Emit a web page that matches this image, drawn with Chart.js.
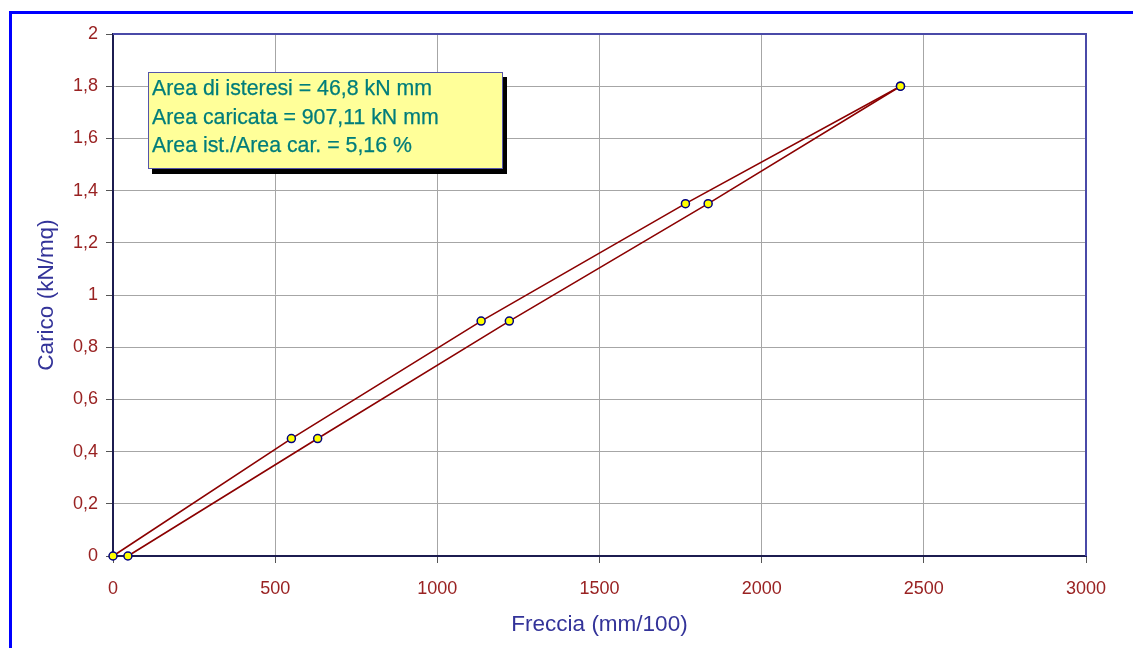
<!DOCTYPE html>
<html lang="it">
<head>
    <meta charset="UTF-8">
    <title>Carico - Freccia</title>
    <script src="https://cdn.jsdelivr.net/npm/chart.js"></script>
    <style>
        body { margin: 0; background: #ffffff; }
        #wrap { position: relative; width: 1133px; height: 648px; overflow: hidden; }
        /* blue outer frame, only left and top are visible */
        #frame { position: absolute; left: 9px; top: 11px; width: 1200px; height: 700px;
                 border-left: 3px solid #0000ff; border-top: 3px solid #0000ff; }
        #note { position: absolute; left: 148px; top: 72px; width: 350px; height: 94px;
                background: #ffff99; border: 1px solid #5555aa; box-shadow: 4px 5px 0 #000;
                font-family: "Liberation Sans", Arial, sans-serif; font-size: 21.3px;
                line-height: 28.5px; color: #007d7b; padding: 1px 0 0 3px; box-sizing: content-box;
                -webkit-text-stroke: 0.25px #007d7b; }
    </style>
</head>
<body>
<div id="wrap">
    <div id="frame"></div>
    <canvas id="chart" width="1133" height="648"></canvas>
    <div id="note">
        Area di isteresi = 46,8 kN mm<br>
        Area caricata = 907,11 kN mm<br>
        Area ist./Area car. = 5,16 %
    </div>
</div>

<script>
    // loading branch (carico) and unloading branch (scarico)
    const caricoX = [0, 550, 1135, 1765, 2428];
    const caricoY = [0, 0.45, 0.9, 1.35, 1.8];
    const scaricoX = [2428, 1835, 1222, 631, 46];
    const scaricoY = [1.8, 1.35, 0.9, 0.45, 0];

    const xTitle = 'Freccia (mm/100)';
    const yTitle = 'Carico (kN/mq)';

    function toPoints(xs, ys) {
        return xs.map((x, i) => ({ x: x, y: ys[i] }));
    }

    // top and right edges of the plot area are blue
    const plotFrame = {
        id: 'plotFrame',
        beforeDatasetsDraw(chart) {
            const { ctx, chartArea: a } = chart;
            ctx.save();
            ctx.strokeStyle = '#4a4aa8';
            ctx.lineWidth = 2;
            ctx.beginPath();
            ctx.moveTo(a.left, a.top);
            ctx.lineTo(a.right, a.top);
            ctx.lineTo(a.right, a.bottom);
            ctx.stroke();
            ctx.restore();
        }
    };

    const lineStyle = {
        showLine: true,
        clip: false,
        borderColor: '#8b0000',
        borderWidth: 1.6,
        pointRadius: 4,
        pointBackgroundColor: '#ffff00',
        pointBorderColor: '#000080',
        pointBorderWidth: 1.5,
        tension: 0
    };

    Chart.defaults.font.family = '"Liberation Sans", Arial, sans-serif';

    new Chart(document.getElementById('chart'), {
        type: 'scatter',
        data: {
            datasets: [
                Object.assign({ label: 'Carico', data: toPoints(caricoX, caricoY) }, lineStyle),
                Object.assign({ label: 'Scarico', data: toPoints(scaricoX, scaricoY) }, lineStyle)
            ]
        },
        options: {
            responsive: false,
            animation: false,
            layout: { padding: { top: 34, right: 47, left: 0, bottom: 0 } },
            plugins: { legend: { display: false }, tooltip: { enabled: false } },
            scales: {
                x: {
                    min: 0, max: 3000,
                    ticks: { stepSize: 500, color: '#992222', font: { size: 18 }, padding: 15, maxRotation: 0,
                             callback: v => String(v) },
                    grid: { color: '#a6a6a6', tickLength: 7, tickColor: '#555555' },
                    border: { color: '#1c1c50', width: 2 },
                    title: { display: true, text: xTitle, color: '#333399', font: { size: 22.5 }, padding: { top: 0, bottom: 9.5 } },
                    afterFit(scale) { scale.height = 92; }
                },
                y: {
                    min: 0, max: 2,
                    ticks: {
                        stepSize: 0.2, color: '#992222', font: { size: 18 }, padding: 8,
                        callback: v => String(Number(v.toFixed(1))).replace('.', ',')
                    },
                    grid: { color: '#a6a6a6', tickLength: 7, tickColor: '#555555' },
                    border: { color: '#1c1c50', width: 2 },
                    title: { display: true, text: yTitle, color: '#333399', font: { size: 22.5 }, padding: { top: 33, bottom: 0 } },
                    afterFit(scale) { scale.width = 113; }
                }
            }
        },
        plugins: [plotFrame]
    });
</script>
</body>
</html>
